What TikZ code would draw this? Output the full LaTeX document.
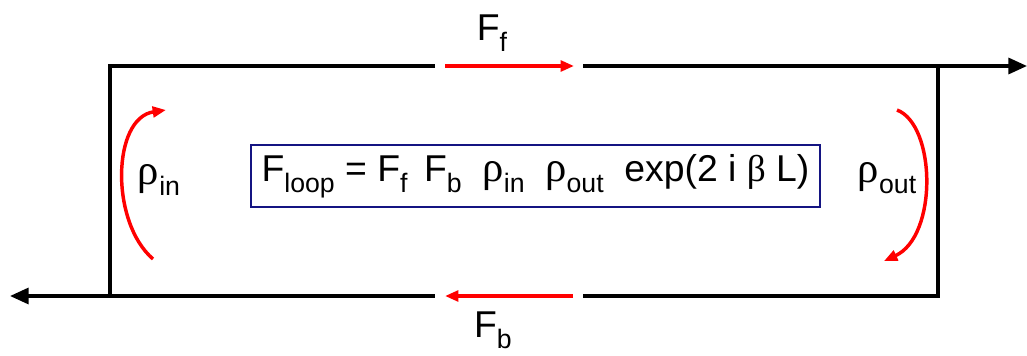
\documentclass[tikz,border=0pt]{standalone}
\usepackage{fontspec}
\setmainfont{Liberation Sans}
\newfontfamily\grk{Liberation Serif}
\usetikzlibrary{arrows.meta}
\newcommand\sbs[1]{\raisebox{-0.3em}{\fontsize{20}{20}\selectfont #1}}
\newcommand\rh{{\grk\fontsize{32}{32}\selectfont ρ}}
\newcommand\bt{{\grk β}}
\begin{document}
\begin{tikzpicture}[x=0.75pt,y=-0.75pt,
  wire/.style={line width=2.5pt,black},
  bigtip/.style={-{Triangle[length=14pt,width=12pt]}},
  redarrow/.style={line width=2.6pt,red,-{Triangle[length=10pt,width=8pt]}},
  lbl/.style={font=\fontsize{28}{28}\selectfont,inner sep=0pt}]
\useasboundingbox (0,0) rectangle (1027,356);
% corners
\coordinate (tl) at (110,66);
\coordinate (tr) at (938,66);
\coordinate (bl) at (110,296);
\coordinate (br) at (938,296);
\coordinate (tg1) at (435,66);
\coordinate (tg2) at (583,66);
\coordinate (bg1) at (435,296);
\coordinate (bg2) at (583,296);
\coordinate (outR) at (1027,66);
\coordinate (outL) at (10,296);
% red arrow ends
\coordinate (fa) at (445,66);
\coordinate (fb) at (574,66);
\coordinate (ba) at (573,296);
\coordinate (bb) at (445,296);
\coordinate (la) at (153,259);
\coordinate (lb) at (166,110);
\coordinate (ra) at (897,110);
\coordinate (rb) at (884,261);
% wires
\draw[wire] (tg1) -- (tl) -- (bl) -- (bg1);
\draw[wire] (bg2) -- (br) -- (tr) -- (tg2);
\draw[wire,bigtip] (tr) -- (outR);
\draw[wire,bigtip] (bl) -- (outL);
% red arrows
\draw[redarrow] (la) .. controls (110,222) and (112,118) .. (lb);
\draw[redarrow] (ra) .. controls (936,125) and (938,236) .. (rb);
\draw[redarrow] (fa) -- (fb);
\draw[redarrow] (ba) -- (bb);
% labels
\node[lbl] (Ff) at (492,33) {F\sbs{f}};
\node[lbl] (Fb) at (493,330) {F\sbs{b}};
\node[lbl] (rin) at (159,180) {\rh\sbs{in}};
\node[lbl] (rout) at (887,178) {\rh\sbs{out}};
\node[draw={rgb,255:red,20;green,20;blue,130},line width=1.5pt,font=\fontsize{28}{28}\selectfont,minimum width=427pt,minimum height=47pt,inner sep=0pt] (eq) at (535.5,176)
  {F\sbs{loop} = F\sbs{f}\, F\sbs{b}\; \rh\sbs{in}\; \rh\sbs{out}\; exp(2 i \bt{} L)};
\end{tikzpicture}
\end{document}
